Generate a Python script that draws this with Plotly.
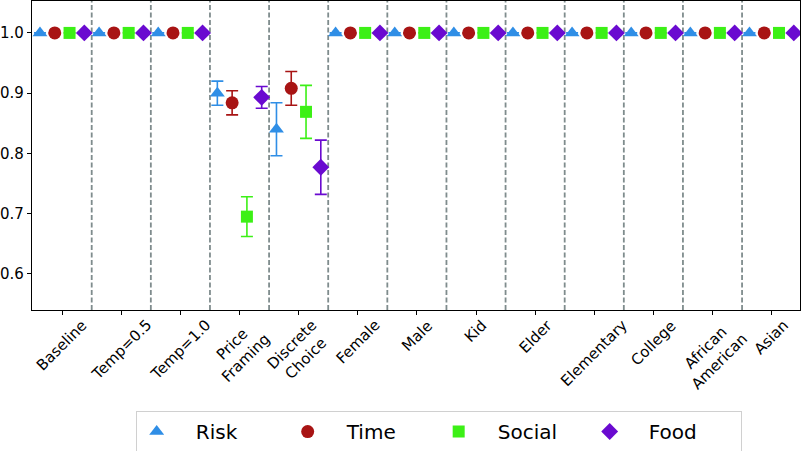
import plotly.graph_objects as go

categories = ["Baseline", "Temp=0.5", "Temp=1.0", "Price<br>Framing", "Discrete<br>Choice",
              "Female", "Male", "Kid", "Elder", "Elementary", "College",
              "African<br>American", "Asian"]

risk = [1.0, 1.0, 1.0, 0.900, 0.840, 1.0, 1.0, 1.0, 1.0, 1.0, 1.0, 1.0, 1.0]
risk_err = [0, 0, 0, 0.020, 0.044, 0, 0, 0, 0, 0, 0, 0, 0]
time_ = [1.0, 1.0, 1.0, 0.884, 0.908, 1.0, 1.0, 1.0, 1.0, 1.0, 1.0, 1.0, 1.0]
time_err = [0, 0, 0, 0.020, 0.028, 0, 0, 0, 0, 0, 0, 0, 0]
social = [1.0, 1.0, 1.0, 0.695, 0.869, 1.0, 1.0, 1.0, 1.0, 1.0, 1.0, 1.0, 1.0]
social_err = [0, 0, 0, 0.033, 0.044, 0, 0, 0, 0, 0, 0, 0, 0]
food = [1.0, 1.0, 1.0, 0.893, 0.777, 1.0, 1.0, 1.0, 1.0, 1.0, 1.0, 1.0, 1.0]
food_err = [0, 0, 0, 0.018, 0.045, 0, 0, 0, 0, 0, 0, 0, 0]

yticks = [0.6, 0.7, 0.8, 0.9, 1.0]

series = [
    ("Risk", risk, risk_err, "#2f8ee6", "triangle-up", -0.375, 13),
    ("Time", time_, time_err, "#a81414", "circle", -0.125, 13),
    ("Social", social, social_err, "#3cf016", "square", 0.125, 12),
    ("Food", food, food_err, "#6a0ad0", "diamond", 0.375, 13),
]

fig = go.Figure()
idx = list(range(len(categories)))
for name, vals, errs, color, sym, off, size in series:
    fig.add_trace(go.Scatter(
        x=[i + off for i in idx], y=vals, mode="markers",
        name="\u00a0\u00a0\u00a0" + name,
        marker=dict(symbol=sym, size=size, color=color, line=dict(width=0)),
        error_y=dict(type="data", array=errs, visible=True, color=color,
                     thickness=1.6, width=6),
    ))

shapes = []
for i in idx[:-1]:
    shapes.append(dict(type="line", xref="x", yref="paper", x0=i + 0.5, x1=i + 0.5,
                       y0=0, y1=1, line=dict(color="#7f8c8d", width=1.8, dash="5px,2.5px"),
                       layer="below"))

annotations = []
for i, lab in zip(idx, categories):
    annotations.append(dict(x=i, y=0, xref="x", yref="paper", text=lab, showarrow=False,
                            textangle=-45, xanchor="center", yanchor="top", align="center",
                            yshift=-5, font=dict(size=15, color="black"), borderpad=0))

fig.update_layout(
    width=802, height=451,
    margin=dict(l=32, r=2, t=1, b=141, autoexpand=False),
    plot_bgcolor="white", paper_bgcolor="white",
    font=dict(family="DejaVu Sans", size=15, color="black"),
    shapes=shapes,
    annotations=annotations,
    showlegend=True,
    legend=dict(orientation="h", x=0.135, xanchor="left", y=-0.327, yanchor="top",
                font=dict(size=20), bordercolor="#d0d0d0", borderwidth=1,
                entrywidth=106),
    xaxis=dict(range=[-0.51, 12.48], tickvals=idx, showticklabels=False,
               showgrid=False, zeroline=False, showline=True, linecolor="black",
               linewidth=1.2, mirror=True, ticks="outside", ticklen=4, tickcolor="black",
               automargin=False),
    yaxis=dict(range=[0.54, 1.053], tickvals=yticks, tickformat=".1f",
               showgrid=False, zeroline=False, showline=True, linecolor="black",
               linewidth=1.2, mirror=True, ticks="outside", ticklen=4, tickcolor="black",
               automargin=False),
)

fig.write_html("out.html", post_script="document.body.style.margin='0';",
               config={"displayModeBar": False})
